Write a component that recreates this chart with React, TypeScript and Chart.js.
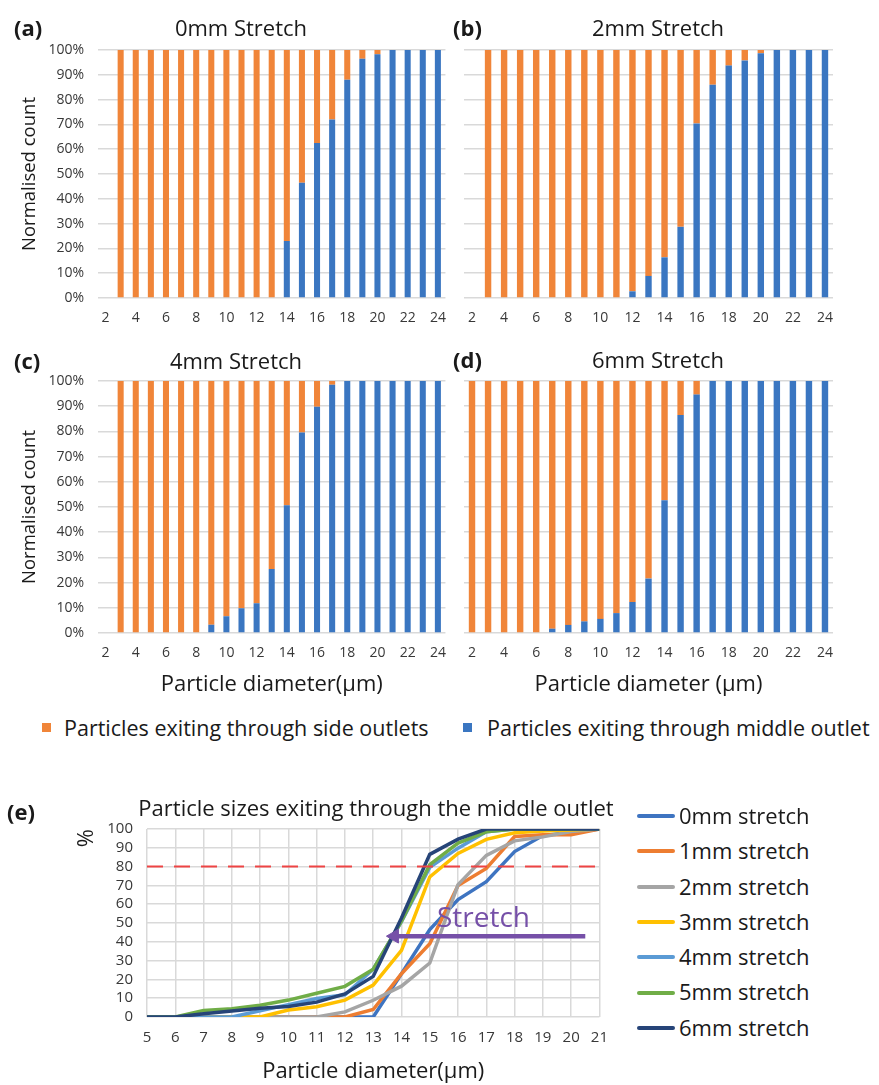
import React, { useEffect, useRef } from "react";
import { Chart, registerables } from "chart.js";

Chart.register(...registerables);

const FONT = "'Open Sans', 'Noto Sans', sans-serif";
Chart.defaults.font.family = FONT;

// ---------------- data ----------------
const diameterLabels = ["2", "3", "4", "5", "6", "7", "8", "9", "10", "11", "12", "13", "14", "15", "16", "17", "18", "19", "20", "21", "22", "23", "24"];

// % of particles exiting through the middle outlet (null = no particles of this size)
const middle0mm = [null, 0, 0, 0, 0, 0, 0, 0, 0, 0, 0, 0, 23, 46.5, 62.5, 72, 88, 96.5, 98.3, 100, 100, 100, 100];
const middle2mm = [null, 0, 0, 0, 0, 0, 0, 0, 0, 0, 2.7, 8.9, 16.4, 28.7, 70.4, 86, 93.7, 95.8, 98.7, 100, 100, 100, 100];
const middle4mm = [null, 0, 0, 0, 0, 0, 0, 3.3, 6.6, 9.8, 11.8, 25.4, 50.7, 79.6, 89.8, 98.5, 100, 100, 100, 100, 100, 100, 100];
const middle6mm = [0, 0, 0, 0, 0, 1.7, 3.2, 4.6, 5.6, 7.9, 12.3, 21.6, 52.7, 86.5, 94.6, 100, 100, 100, 100, 100, 100, 100, 100];

const barPanelTitles = ["0mm Stretch", "2mm Stretch", "4mm Stretch", "6mm Stretch"];
const barPanelTags = ["(a)", "(b)", "(c)", "(d)"];
const barLegendLabels = ["Particles exiting through side outlets", "Particles exiting through middle outlet"];
const yAxisTitle = "Normalised count";
const xAxisTitleC = "Particle diameter(\u03bcm)";
const xAxisTitleD = "Particle diameter (\u03bcm)";

const lineDiameters = [5, 6, 7, 8, 9, 10, 11, 12, 13, 14, 15, 16, 17, 18, 19, 20, 21];
const line0mm = [0, 0, 0, 0, 0, 0, 0, 0, 0, 23, 46.5, 62.5, 72, 88, 96.5, 98.3, 100];
const line1mm = [0, 0, 0, 0, 0, 0, 0, 0, 4, 23, 39, 70, 79, 96, 97, 97, 100];
const line2mm = [0, 0, 0, 0, 0, 0, 0, 2.7, 8.9, 16.4, 28.7, 70.4, 86, 93.7, 95.8, 98.7, 100];
const line3mm = [0, 0, 0, 0, 0, 3.7, 5.5, 9, 17, 35.5, 74.5, 87, 94.5, 98, 99, 99.5, 100];
const line4mm = [0, 0, 0, 0, 3.3, 6.6, 9.8, 11.8, 25.4, 50.7, 79.6, 89.8, 98.5, 100, 100, 100, 100];
const line5mm = [0, 0, 3.4, 4.4, 6.2, 9, 12.6, 16.3, 25.4, 51, 81, 92.5, 98.5, 100, 100, 100, 100];
const line6mm = [0, 0, 1.7, 3.2, 4.6, 5.6, 7.9, 12.3, 21.6, 52.7, 86.5, 94.6, 100, 100, 100, 100, 100];
const lineSeries = [line0mm, line1mm, line2mm, line3mm, line4mm, line5mm, line6mm];
const lineLabels = ["0mm stretch", "1mm stretch", "2mm stretch", "3mm stretch", "4mm stretch", "5mm stretch", "6mm stretch"];
const lineColors = ["#3E74C1", "#ED7D31", "#A5A5A5", "#FFC000", "#5B9BD5", "#70AD47", "#264478"];

const lineTitle = "Particle sizes exiting through the middle outlet";
const lineXTitle = "Particle diameter(\u03bcm)";
const lineYTitle = "%";
const lineTag = "(e)";

const thresholdX = [5, 21];
const thresholdY = [80, 80];
const arrowX = [20.5, 13.75];
const arrowY = [43, 43];
const stretchText = "Stretch";
const stretchX = 16.9;
const stretchY = 48;

// ---------------- style ----------------
const ORANGE = "#F08539";
const BLUE = "#3A76C1";
const GRID = "#D9D9D9";
const TEXT = "#1a1a1a";
const TICK = "#383838";
const PURPLE = "#7650A8";
const RED = "#EE4444";

type BarLayout = {
  left: number; top: number; width: number; height: number;
  areaTop: number; areaBottom: number; yWidth: number; padRight: number;
  showY: boolean; xTitle?: string; xTitlePad?: number;
};

function barConfig(middle: (number | null)[], L: BarLayout): any {
  const side = middle.map((v) => (v === null ? null : Math.round((100 - v) * 10) / 10));
  return {
    type: "bar",
    data: {
      labels: diameterLabels,
      datasets: [
        { label: barLegendLabels[1], data: middle, backgroundColor: BLUE, barPercentage: 0.4, categoryPercentage: 1 },
        { label: barLegendLabels[0], data: side, backgroundColor: ORANGE, barPercentage: 0.4, categoryPercentage: 1 },
      ],
    },
    options: {
      animation: false,
      responsive: false,
      maintainAspectRatio: false,
      layout: { padding: { top: L.areaTop, right: L.padRight, left: 0, bottom: 0 } },
      plugins: { legend: { display: false }, tooltip: { enabled: false }, title: { display: false } },
      scales: {
        x: {
          stacked: true,
          grid: { display: false, drawTicks: false },
          border: { display: false },
          ticks: {
            autoSkip: false,
            maxRotation: 0,
            padding: 12,
            color: TICK,
            font: { size: 14 },
            callback: (_v: any, i: number) => (i % 2 === 0 ? diameterLabels[i] : ""),
          },
          title: L.xTitle
            ? { display: true, text: L.xTitle, color: TEXT, font: { size: 22 }, padding: { top: 0, bottom: L.xTitlePad || 0 } }
            : { display: false },
          afterFit: (s: any) => { s.height = L.height - L.areaBottom; },
        },
        y: {
          stacked: true,
          min: 0,
          max: 100,
          grid: { color: GRID, lineWidth: 1.5, drawTicks: false },
          border: { display: false },
          ticks: {
            display: L.showY,
            autoSkip: false,
            stepSize: 10,
            padding: 14,
            color: TICK,
            font: { size: 14 },
            callback: (v: any) => v + "%",
          },
          title: L.showY
            ? { display: true, text: yAxisTitle, color: TEXT, font: { size: 18.5 }, padding: { top: 19, bottom: 0 } }
            : { display: false },
          afterFit: (s: any) => { s.width = L.yWidth; },
        },
      },
    },
  };
}

const stretchPlugin = {
  id: "stretchLabel",
  afterDatasetsDraw(chart: any) {
    const { ctx, scales } = chart;
    ctx.save();
    ctx.font = `28px ${FONT}`;
    ctx.fillStyle = PURPLE;
    ctx.textAlign = "center";
    ctx.textBaseline = "alphabetic";
    ctx.fillText(stretchText, scales.x.getPixelForValue(stretchX), scales.y.getPixelForValue(stretchY));
    ctx.restore();
  },
};

function lineConfig(): any {
  const datasets: any[] = lineSeries.map((s, i) => ({
    label: lineLabels[i],
    data: lineDiameters.map((x, j) => ({ x, y: s[j] })),
    borderColor: lineColors[i],
    backgroundColor: lineColors[i],
    borderWidth: 3.5,
    pointRadius: 0,
    tension: 0,
    order: 10 - i,
  }));
  datasets.push({
    label: "80% line",
    data: thresholdX.map((x, j) => ({ x, y: thresholdY[j] })),
    borderColor: RED,
    borderWidth: 2,
    borderDash: [16, 11],
    pointRadius: 0,
    order: 1,
  });
  datasets.push({
    label: "Stretch arrow",
    data: arrowX.map((x, j) => ({ x, y: arrowY[j] })),
    borderColor: PURPLE,
    backgroundColor: PURPLE,
    borderWidth: 4.5,
    pointRadius: [0, 8],
    pointHoverRadius: 0,
    pointStyle: "triangle",
    pointRotation: -90,
    pointBackgroundColor: PURPLE,
    pointBorderColor: PURPLE,
    pointBorderWidth: 1,
    order: 0,
  });
  return {
    type: "line",
    data: { datasets },
    plugins: [stretchPlugin],
    options: {
      animation: false,
      responsive: false,
      maintainAspectRatio: false,
      layout: { padding: { top: 69, right: 18, left: 0, bottom: 0 } },
      plugins: { legend: { display: false }, tooltip: { enabled: false }, title: { display: false } },
      scales: {
        x: {
          type: "linear",
          min: 5,
          max: 21,
          grid: { color: GRID, lineWidth: 1.5, drawTicks: false },
          border: { display: false },
          ticks: { stepSize: 1, autoSkip: false, padding: 12, color: TICK, font: { size: 15 } },
          title: { display: true, text: lineXTitle, color: TEXT, font: { size: 22 }, padding: { top: 0, bottom: 0 } },
          afterFit: (s: any) => { s.height = 68; },
        },
        y: {
          min: 0,
          max: 100,
          grid: { color: GRID, lineWidth: 1.5, drawTicks: false },
          border: { display: false },
          ticks: { stepSize: 10, autoSkip: false, padding: 14, color: TICK, font: { size: 15 } },
          title: { display: true, text: lineYTitle, align: "end", color: TEXT, font: { size: 22 }, padding: { top: 74, bottom: 0 } },
          afterFit: (s: any) => { s.width = 147; },
        },
      },
    },
  };
}

function ChartCanvas({ make, left, top, width, height }: { make: () => any; left: number; top: number; width: number; height: number }) {
  const ref = useRef<HTMLCanvasElement | null>(null);
  useEffect(() => {
    const chart = new Chart(ref.current as HTMLCanvasElement, make());
    return () => chart.destroy();
  }, []);
  return (
    <canvas
      ref={ref}
      width={width}
      height={height}
      style={{ position: "absolute", left, top, width, height }}
    />
  );
}

function Txt({ x, y, text, size, bold, center, color }: { x: number; y: number; text: string; size: number; bold?: boolean; center?: boolean; color?: string }) {
  return (
    <div
      style={{
        position: "absolute",
        left: center ? x - 300 : x,
        width: center ? 600 : undefined,
        top: y - size * 0.73,
        fontSize: size,
        lineHeight: `${size * 1.4}px`,
        fontFamily: FONT,
        fontWeight: bold ? 700 : 400,
        color: color || TEXT,
        textAlign: center ? "center" : "left",
        whiteSpace: "nowrap",
      }}
    >
      {text}
    </div>
  );
}

const layoutA: BarLayout = { left: 0, top: 0, width: 458, height: 335, areaTop: 50, areaBottom: 298, yWidth: 98, padRight: 5, showY: true };
const layoutB: BarLayout = { left: 440, top: 0, width: 439, height: 335, areaTop: 50, areaBottom: 298, yWidth: 24, padRight: 46, showY: false };
const layoutC: BarLayout = { left: 0, top: 335, width: 458, height: 370, areaTop: 46, areaBottom: 298, yWidth: 98, padRight: 5, showY: true, xTitle: xAxisTitleC, xTitlePad: 7 };
const layoutD: BarLayout = { left: 440, top: 335, width: 439, height: 370, areaTop: 46, areaBottom: 298, yWidth: 24, padRight: 46, showY: false, xTitle: xAxisTitleD, xTitlePad: 7 };

export default function App() {
  const panels: [BarLayout, (number | null)[]][] = [
    [layoutA, middle0mm],
    [layoutB, middle2mm],
    [layoutC, middle4mm],
    [layoutD, middle6mm],
  ];
  const tagPos = [[14, 28], [453, 28], [14, 361], [453, 360]];
  const titlePos = [[241, 28], [658, 28], [236, 361], [658, 360]];
  return (
    <div style={{ position: "absolute", left: 0, top: 0, width: 879, height: 1085, background: "#fff", overflow: "hidden" }}>
      {panels.map(([L, m], i) => (
        <ChartCanvas key={i} make={() => barConfig(m, L)} left={L.left} top={L.top} width={L.width} height={L.height} />
      ))}
      {panels.map((_, i) => (
        <React.Fragment key={"t" + i}>
          <Txt x={tagPos[i][0]} y={tagPos[i][1]} text={barPanelTags[i]} size={22} bold />
          <Txt x={titlePos[i][0]} y={titlePos[i][1]} text={barPanelTitles[i]} size={22} center />
        </React.Fragment>
      ))}
      {/* bar legend */}
      <div style={{ position: "absolute", left: 42, top: 723, width: 9, height: 9, background: ORANGE }} />
      <Txt x={64} y={729} text={barLegendLabels[0]} size={21.5} />
      <div style={{ position: "absolute", left: 463, top: 723, width: 9, height: 9, background: BLUE }} />
      <Txt x={487} y={729} text={barLegendLabels[1]} size={21.5} />

      {/* panel e */}
      <ChartCanvas make={lineConfig} left={0} top={760} width={620} height={325} />
      <Txt x={7} y={812} text={lineTag} size={22} bold />
      <Txt x={376} y={808} text={lineTitle} size={22} center />
      {lineLabels.map((lab, i) => {
        const cy = 816 + i * 35.3;
        return (
          <React.Fragment key={"l" + i}>
            <div style={{ position: "absolute", left: 637, top: cy - 2, width: 38, height: 4, borderRadius: 2, background: lineColors[i] }} />
            <Txt x={679} y={cy} text={lab} size={22} />
          </React.Fragment>
        );
      })}
    </div>
  );
}
